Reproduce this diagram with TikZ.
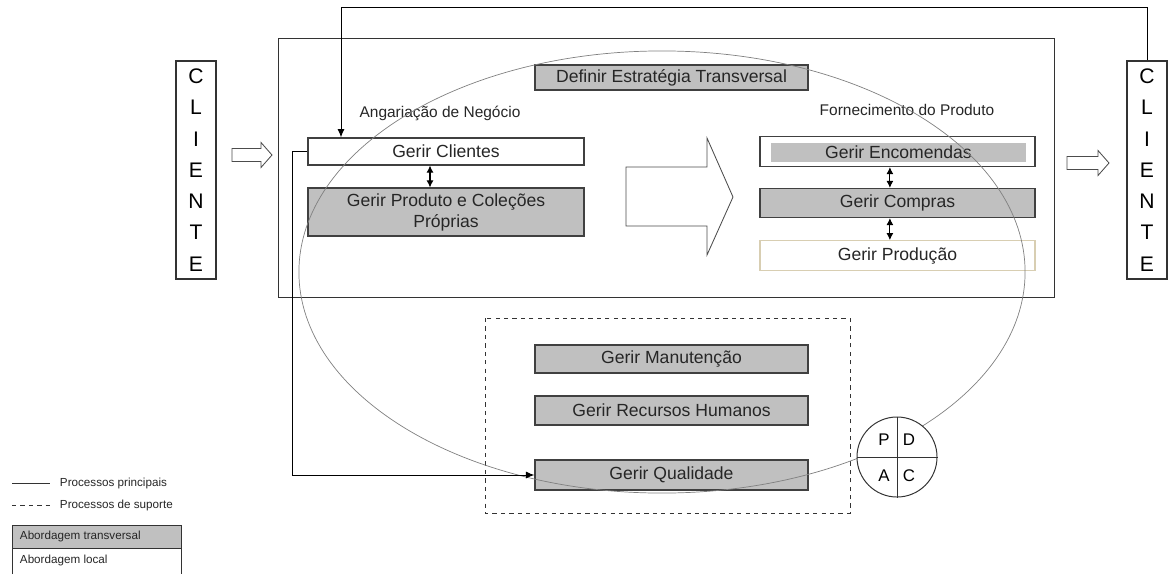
\documentclass[tikz,border=0pt]{standalone}
\usepackage{fontspec}
\setmainfont{Liberation Sans}
\usetikzlibrary{arrows.meta}
\definecolor{boxgray}{RGB}{192,192,192}
\definecolor{tanline}{RGB}{216,206,178}

\begin{document}
\begin{tikzpicture}[x=0.025cm,y=-0.025cm,
  proc/.style={draw=black!75,line width=0.8pt,rectangle,minimum width=6.9cm,minimum height=0.7cm,inner sep=1pt,font=\fontsize{12.5}{15}\selectfont,text=black!85},
  trans/.style={proc,fill=boxgray},
  lbl/.style={font=\fontsize{11}{13}\selectfont,text=black!85},
  cliente/.style={draw=black!80,line width=0.8pt,minimum width=1cm,minimum height=5.45cm,align=center,inner sep=0pt,font=\fontsize{15}{22.2}\selectfont},
  leg/.style={font=\fontsize{8.3}{10}\selectfont,text=black!85},
  dbl/.style={{Latex[length=5pt,width=5pt]}-{Latex[length=5pt,width=5pt]},line width=0.8pt},
  tip/.style={-{Latex[length=6pt,width=5pt]},line width=0.7pt},
  hollow/.style={draw=black!70,line width=0.6pt,fill=white}]
\useasboundingbox (0,0) rectangle (1172,574);

\draw[black!80,line width=0.7pt] (278,38) rectangle (1054,297);
\draw[black!80,line width=0.7pt,dashed] (485,318) rectangle (850,513);

\node[cliente] (clienteL) at (196,170) {C\\L\\I\\E\\N\\T\\E};
\node[cliente] (clienteR) at (1147,170) {C\\L\\I\\E\\N\\T\\E};
\draw[hollow] (232,148.5) -- (261,148.5) -- (261,142.5) -- (272,155) -- (261,167.5) -- (261,161.5) -- (232,161.5) -- cycle;
\draw[hollow] (1067,156.5) -- (1098,156.5) -- (1098,150.5) -- (1109,163) -- (1098,175.5) -- (1098,169.5) -- (1067,169.5) -- cycle;
\draw[hollow] (626,167) -- (707,167) -- (707,138) -- (733,197) -- (707,255) -- (707,226) -- (626,226) -- cycle;

\node[trans,minimum width=6.825cm,minimum height=0.625cm] (definir) at (671.5,77.5) {Definir Estratégia Transversal};
\node[lbl] (angariacao) at (440,113) {Angariação de Negócio};
\node[lbl] (fornecimento) at (907,110) {Fornecimento do Produto};

\node[proc,fill=white,minimum height=0.675cm] (clientes) at (446,151.5) {Gerir Clientes};
\node[trans,minimum height=1.2cm,align=center] (produto) at (446,212) {Gerir Produto e Coleções\\Próprias};

\node[proc,fill=white,minimum width=6.875cm,minimum height=0.75cm] (encomendas) at (897.5,151.5) {};
\node[proc,draw=none,fill=boxgray,minimum width=6.375cm,minimum height=0.47cm,inner sep=0pt] (encomendasin) at (898.5,152.5) {Gerir Encomendas};
\node[trans,minimum width=6.875cm,minimum height=0.725cm] (compras) at (897.5,203) {Gerir Compras};
\node[proc,draw=tanline,fill=white,minimum width=6.875cm,minimum height=0.74cm] (producao) at (897.5,255.5) {Gerir Produção};

\node[trans,minimum width=6.825cm] (manutencao) at (671.5,359) {Gerir Manutenção};
\node[trans,minimum width=6.825cm,minimum height=0.725cm] (rh) at (671.5,410.5) {Gerir Recursos Humanos};
\node[trans,minimum width=6.825cm,minimum height=0.75cm] (qualidade) at (671.5,475) {Gerir Qualidade};

\draw[gray,line width=0.5pt] (662,272) ellipse [x radius=9.075cm,y radius=5.525cm];

\draw[dbl] ([xshift=-0.4cm]clientes.south) -- ([xshift=-0.4cm]produto.north);
\draw[dbl] ([xshift=-0.19cm]encomendas.south) -- ([xshift=-0.19cm]compras.north);
\draw[dbl] ([xshift=-0.19cm]compras.south) -- ([xshift=-0.19cm]producao.north);

\coordinate (topl) at (341,7);
\draw[tip] (clienteR.north) |- (topl) -- (topl |- clientes.north);
\draw[tip] (clientes.west) -- ++(-15,0) |- (qualidade.west);

\node[circle,draw=black!80,line width=0.7pt,fill=white,minimum size=2cm,inner sep=0pt] (pdca) at (897,457) {};
\draw[black!80,line width=0.7pt] (pdca.north) -- (pdca.south) (pdca.west) -- (pdca.east);
\node[font=\fontsize{12}{14}\selectfont] (p) at (884,440) {P};
\node[font=\fontsize{12}{14}\selectfont] (d) at (909,440) {D};
\node[font=\fontsize{12}{14}\selectfont] (a) at (884,476) {A};
\node[font=\fontsize{12}{14}\selectfont] (c) at (909,476) {C};

\draw[black!80,line width=0.6pt] (12,483) -- (50,483);
\node[leg,anchor=west] (legmain) at (55,483) {Processos principais};
\draw[black!80,line width=0.6pt,dashed] (12,505) -- (50,505);
\node[leg,anchor=west] (legsup) at (55,505) {Processos de suporte};
\draw[black!80,line width=0.6pt,fill=boxgray] (12,525) rectangle (181,548);
\draw[black!80,line width=0.6pt] (12,574) -- (12,548) -- (181,548) -- (181,574);
\node[leg,anchor=west] (legtrans) at (15,536.5) {Abordagem transversal};
\node[leg,anchor=west] (leglocal) at (15,560) {Abordagem local};
\end{tikzpicture}
\end{document}
